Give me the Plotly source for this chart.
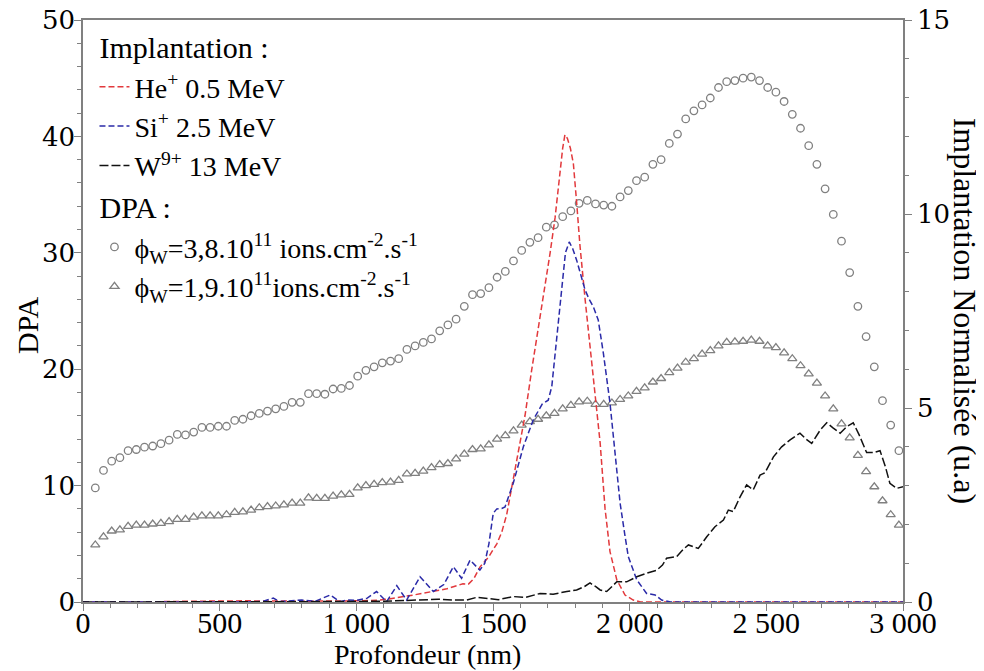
import plotly.graph_objects as go

# depth grid of the DPA points (nm)
depth = [45, 75, 105, 135, 165, 195, 225, 255, 285, 315,
         345, 375, 405, 435, 465, 495, 525, 555, 585, 615,
         645, 675, 705, 735, 765, 795, 825, 855, 885, 915,
         945, 975, 1005, 1035, 1065, 1095, 1125, 1155, 1185, 1215,
         1245, 1275, 1305, 1335, 1365, 1395, 1425, 1455, 1485, 1515,
         1545, 1575, 1605, 1635, 1665, 1695, 1725, 1755, 1785, 1815,
         1845, 1875, 1905, 1935, 1965, 1995, 2025, 2055, 2085, 2115,
         2145, 2175, 2205, 2235, 2265, 2295, 2325, 2355, 2385, 2415,
         2445, 2475, 2505, 2535, 2565, 2595, 2625, 2655, 2685, 2715,
         2745, 2775, 2805, 2835, 2865, 2895, 2925, 2955, 2985]

dpa_38 = [9.8, 11.3, 12.1, 12.4, 13.0, 13.1, 13.3, 13.4, 13.6, 13.9,
          14.4, 14.35, 14.6, 15.0, 15.0, 15.1, 15.1, 15.6, 15.7, 16.0,
          16.2, 16.4, 16.6, 16.8, 17.15, 17.15, 17.9, 17.9, 17.85, 18.3,
          18.35, 18.6, 19.4, 19.9, 20.2, 20.55, 20.7, 20.9, 21.7, 22.0,
          22.3, 22.6, 23.3, 23.8, 24.3, 25.4, 26.4, 26.5, 27.0, 27.9,
          28.4, 29.3, 30.2, 30.9, 31.3, 32.2, 32.4, 33.1, 33.6, 34.25,
          34.5, 34.2, 34.1, 34.0, 34.8, 35.35, 36.2, 36.5, 37.6, 38.0,
          39.4, 40.2, 41.5, 42.2, 42.7, 43.3, 44.2, 44.7, 44.8, 45.0,
          45.1, 44.8, 44.2, 43.8, 43.0, 41.9, 40.7, 39.2, 37.6, 35.5,
          33.3, 31.0, 28.3, 25.4, 22.8, 20.2, 17.3, 15.2, 13.0]

dpa_19 = [4.9, 5.6, 6.1, 6.2, 6.5, 6.6, 6.6, 6.7, 6.75, 6.9,
          7.1, 7.1, 7.3, 7.4, 7.4, 7.4, 7.5, 7.7, 7.75, 7.9,
          8.1, 8.2, 8.25, 8.35, 8.5, 8.5, 8.95, 8.9, 8.9, 9.1,
          9.2, 9.25, 9.8, 10.0, 10.1, 10.25, 10.3, 10.45, 11.0, 11.05,
          11.25, 11.55, 11.8, 11.9, 12.3, 12.7, 13.1, 13.15, 13.5, 14.0,
          14.3, 14.7, 15.2, 15.5, 15.7, 16.0, 16.2, 16.6, 16.9, 17.2,
          17.25, 16.98, 16.98, 17.1, 17.4, 17.7, 18.1, 18.4, 18.9, 19.2,
          19.7, 20.1, 20.6, 20.9, 21.3, 21.6, 22.0, 22.3, 22.35, 22.4,
          22.5, 22.4, 22.0, 21.85, 21.4, 20.9, 20.3, 19.6, 18.8, 17.7,
          16.6, 15.3, 14.1, 12.6, 11.2, 9.9, 8.7, 7.5, 6.6]

# normalised implantation profiles
he_x = [0, 200, 400, 600, 800, 950, 1000, 1050, 1087, 1120, 1148, 1180, 1209, 1240,
        1270, 1300, 1331, 1367, 1390, 1410, 1430, 1452, 1483, 1514, 1532, 1550, 1562,
        1574, 1593, 1617, 1642, 1672, 1690, 1709, 1727, 1745, 1755, 1763, 1772, 1783,
        1794, 1806, 1818, 1837, 1855, 1873, 1892, 1910, 1928, 1953, 1983, 2013, 2040,
        2200, 2500, 3000]
he_y = [0, 0, 0.02, 0.03, 0.02, 0.02, 0.03, 0.04, 0.05, 0.08, 0.12, 0.15, 0.18, 0.22,
        0.26, 0.3, 0.34, 0.42, 0.47, 0.46, 0.6, 0.9, 1.15, 1.5, 1.8, 2.25, 2.7,
        3.1, 3.8, 4.8, 6.0, 7.3, 8.1, 9.0, 9.9, 11.1, 11.7, 12.04, 11.95, 11.7,
        11.3, 10.3, 9.2, 7.8, 6.6, 5.5, 4.1, 2.4, 1.3, 0.57, 0.18, 0.05, 0,
        0, 0, 0]

si_x = [0, 300, 600, 660, 696, 720, 760, 800, 850, 904, 940, 965, 1000, 1040, 1074,
        1111, 1148, 1184, 1233, 1282, 1320, 1355, 1385, 1416, 1452, 1470, 1485, 1501,
        1514, 1532, 1544, 1574, 1611, 1647, 1680, 1702, 1715, 1727, 1739, 1752, 1765,
        1779, 1792, 1806, 1822, 1837, 1852, 1867, 1885, 1904, 1928, 1946, 1965, 1983,
        1995, 2026, 2062, 2093, 2117, 2150, 2500, 3000]
si_y = [0, 0, 0, 0.02, 0.1, 0.01, 0.03, 0.05, 0.02, 0.18, 0.01, 0.05, 0.04, 0.1, 0.27,
        0.01, 0.42, 0.05, 0.65, 0.27, 0.45, 0.91, 0.61, 1.08, 0.82, 1.0, 1.5, 2.29,
        2.4, 2.41, 2.45, 3.06, 4.0, 4.69, 5.1, 5.2, 5.55, 6.4, 7.27, 8.2, 9.0,
        9.28, 9.1, 8.81, 8.4, 8.04, 7.8, 7.61, 7.27, 6.4, 5.13, 3.84, 2.55, 1.7,
        1.17, 0.57, 0.22, 0.18, 0.05, 0, 0, 0]

w_x = [0, 300, 600, 900, 1100, 1200, 1300, 1350, 1404, 1440, 1465, 1520, 1574, 1620,
       1672, 1720, 1770, 1806, 1835, 1855, 1875, 1892, 1916, 1935, 1953, 1989, 2026,
       2062, 2099, 2120, 2135, 2172, 2195, 2215, 2251, 2282, 2312, 2343, 2361, 2379,
       2404, 2428, 2452, 2477, 2495, 2526, 2556, 2587, 2623, 2645, 2666, 2697, 2721,
       2745, 2770, 2794, 2818, 2840, 2867, 2892, 2916, 2935, 2952, 2977, 3000]
w_y = [0, 0, 0, 0.01, 0.02, 0.04, 0.07, 0.05, 0.05, 0.12, 0.1, 0.06, 0.14, 0.12,
       0.22, 0.2, 0.27, 0.31, 0.4, 0.49, 0.4, 0.31, 0.27, 0.4, 0.52, 0.52, 0.65,
       0.74, 0.82, 0.95, 1.13, 1.17, 1.35, 1.47, 1.38, 1.68, 1.94, 2.11, 2.37, 2.33,
       2.71, 3.02, 2.89, 3.27, 3.33, 3.74, 4.0, 4.18, 4.35, 4.2, 4.09, 4.43, 4.62,
       4.48, 4.35, 4.52, 4.62, 4.3, 3.85, 3.85, 3.9, 3.5, 3.06, 2.93, 2.97]

x_ticks = [0, 500, 1000, 1500, 2000, 2500, 3000]
x_labels = ["0", "500", "1 000", "1 500", "2 000", "2 500", "3 000"]

serif = "'Liberation Serif', 'Times New Roman', 'DejaVu Serif', serif"
yfont = "'DejaVu Serif', serif"
axcol = "#808080"

fig = go.Figure()

fig.add_trace(go.Scatter(x=he_x, y=he_y, yaxis="y2", mode="lines",
                         name="He<sup>+</sup> 0.5 MeV",
                         line=dict(color="#e2393c", width=1.5, dash="6px,3px"),
                         legendgroup="impl", legendgrouptitle_text="Implantation :"))
fig.add_trace(go.Scatter(x=si_x, y=si_y, yaxis="y2", mode="lines",
                         name="Si<sup>+</sup> 2.5 MeV",
                         line=dict(color="#2a2aa8", width=1.5, dash="6px,3px"),
                         legendgroup="impl"))
fig.add_trace(go.Scatter(x=w_x, y=w_y, yaxis="y2", mode="lines",
                         name="W<sup>9+</sup> 13 MeV",
                         line=dict(color="#111111", width=1.5, dash="9px,3px"),
                         legendgroup="impl"))
fig.add_trace(go.Scatter(x=depth, y=dpa_38, mode="markers",
                         name="ϕ<sub>W</sub>=3,8.10<sup>11</sup> ions.cm<sup>-2</sup>.s<sup>-1</sup>",
                         marker=dict(symbol="circle-open", size=7.5, color="#808080",
                                     line=dict(width=1.3)),
                         legendgroup="dpa", legendgrouptitle_text="DPA :"))
fig.add_trace(go.Scatter(x=depth, y=dpa_19, mode="markers",
                         name="ϕ<sub>W</sub>=1,9.10<sup>11</sup>ions.cm<sup>-2</sup>.s<sup>-1</sup>",
                         marker=dict(symbol="triangle-up-open", size=8, color="#808080",
                                     line=dict(width=1.3)),
                         legendgroup="dpa"))

# the page body adds an 8px offset, so the figure is a bit smaller than the window
fig.update_layout(
    width=976, height=663,
    margin=dict(l=75, r=81, t=12, b=69, autoexpand=False),
    paper_bgcolor="white", plot_bgcolor="white",
    font=dict(family=serif, size=26, color="black"),
    showlegend=True,
    legend=dict(x=0.014, y=1.0, xanchor="left", yanchor="top",
                bgcolor="rgba(0,0,0,0)", font=dict(size=28, family=serif),
                grouptitlefont=dict(size=30, family=serif),
                tracegroupgap=0, itemwidth=30),
    xaxis=dict(range=[0, 3000], tickvals=x_ticks, ticktext=x_labels, automargin=False,
               showgrid=False, zeroline=False, showline=True, linecolor=axcol,
               linewidth=1.5, mirror=True, ticks="outside", ticklen=7,
               tickcolor=axcol, tickfont=dict(size=30, family=serif),
               ticklabelstandoff=-14, ticklabeloverflow="allow",
               minor=dict(dtick=100, ticks="outside", ticklen=4, tickcolor=axcol)),
    yaxis=dict(range=[0, 50], dtick=10, showgrid=False, zeroline=False, automargin=False,
               showline=True, linecolor=axcol, linewidth=1.5, ticks="outside",
               ticklen=7, tickcolor=axcol, ticklabelstandoff=-6,
               ticklabeloverflow="allow", tickfont=dict(size=26, family=yfont),
               minor=dict(dtick=2, ticks="outside", ticklen=4, tickcolor=axcol)),
    yaxis2=dict(range=[0, 15], dtick=5, overlaying="y", side="right", automargin=False,
                showgrid=False, zeroline=False, showline=True, linecolor=axcol,
                linewidth=1.5, ticks="outside", ticklen=7, tickcolor=axcol,
                ticklabeloverflow="allow", tickfont=dict(size=26, family=yfont),
                minor=dict(dtick=1, ticks="outside", ticklen=4, tickcolor=axcol)),
)

fig.add_annotation(text="Profondeur (nm)", xref="paper", yref="paper",
                   x=0.42, y=-0.091, xanchor="center", yanchor="middle",
                   showarrow=False, font=dict(size=28, family=serif))
fig.add_annotation(text="DPA", xref="paper", yref="paper",
                   x=-0.067, y=0.476, xanchor="center", yanchor="middle",
                   textangle=-90, showarrow=False, font=dict(size=30, family=serif))
fig.add_annotation(text="Implantation Normalisée (u.a)", xref="paper", yref="paper",
                   x=1.076, y=0.5, xanchor="center", yanchor="middle",
                   textangle=90, showarrow=False, font=dict(size=32, family=serif))

fig.write_html("out.html")
